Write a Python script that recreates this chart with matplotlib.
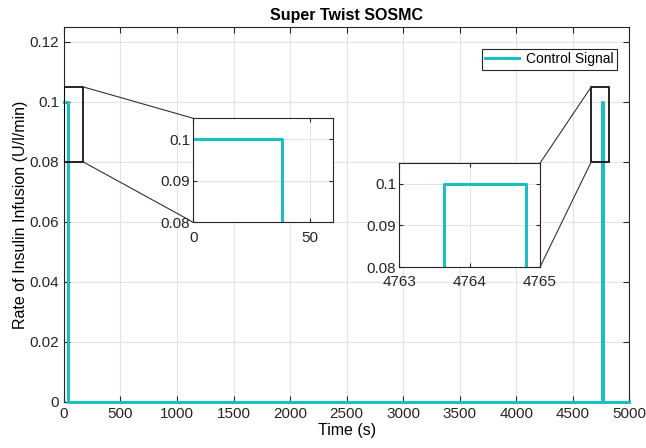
import numpy as np
import matplotlib
matplotlib.use("Agg")
import matplotlib.pyplot as plt
from matplotlib.patches import Rectangle, ConnectionPatch

# Control signal (piecewise constant)
t_sig = [0, 38, 38, 4763.64, 4763.64, 4764.8, 4764.8, 5000]
u_sig = [0.1, 0.1, 0, 0, 0.1, 0.1, 0, 0]

x_ticks = [0, 500, 1000, 1500, 2000, 2500, 3000, 3500, 4000, 4500, 5000]
y_ticks = [0, 0.02, 0.04, 0.06, 0.08, 0.1, 0.12]
y_labels = ["0", "0.02", "0.04", "0.06", "0.08", "0.1", "0.12"]

# zoom windows: (x0, x1) shown on main axes, and inset limits
box1_x = (0, 170)
box2_x = (4664, 4823)
box_y = (0.08, 0.105)
ins1_xlim = (0, 60)
ins2_xlim = (4763, 4765)

plt.rcParams["font.family"] = ["Liberation Sans", "DejaVu Sans"]
plt.rcParams["font.size"] = 11

color = "#1cbfbf"
edge = "#262626"
gridc = "#e3e3e3"

fig = plt.figure(figsize=(6.46, 4.48), dpi=100)
ax = fig.add_axes([0.099, 0.103, 0.875, 0.837])

ax.plot(t_sig, u_sig, color=color, linewidth=2.2, label="Control Signal",
        clip_on=False, zorder=4)
ax.set_xlim(0, 5000)
ax.set_ylim(0, 0.125)
ax.set_xticks(x_ticks)
ax.set_yticks(y_ticks)
ax.set_yticklabels(y_labels)
ax.grid(True, color=gridc, linewidth=0.8)
ax.tick_params(direction="in", top=True, right=True, colors=edge, labelsize=11,
               length=4)
for s in ax.spines.values():
    s.set_color(edge)
    s.set_linewidth(0.8)
ax.set_title("Super Twist SOSMC", fontsize=11.5, fontweight="bold", pad=5)
ax.set_xlabel("Time (s)", fontsize=11.5, labelpad=2)
ax.set_ylabel("Rate of Insulin Infusion (U/l/min)", fontsize=11.5, labelpad=1)
leg = ax.legend(loc="upper right", fontsize=10, fancybox=False, framealpha=1,
                edgecolor=edge, handlelength=2.4, borderpad=0.25,
                handletextpad=0.5, bbox_to_anchor=(0.99, 0.96))
leg.get_frame().set_linewidth(0.8)

# zoom rectangles on the main axes
for bx in (box1_x, box2_x):
    ax.add_patch(Rectangle((bx[0], box_y[0]), bx[1] - bx[0], box_y[1] - box_y[0],
                           fill=False, edgecolor="black", linewidth=1.2, zorder=5))


def make_inset(rect, xlim, xticks, xtick_labels):
    ins = fig.add_axes(rect)
    ins.plot(t_sig, u_sig, color=color, linewidth=2.2)
    ins.set_xlim(*xlim)
    ins.set_ylim(*box_y)
    ins.set_xticks(xticks)
    ins.set_xticklabels(xtick_labels)
    ins.set_yticks([0.08, 0.09, 0.1])
    ins.set_yticklabels(["0.08", "0.09", "0.1"])
    ins.grid(True, color=gridc, linewidth=0.8)
    ins.tick_params(direction="in", top=True, right=True, colors=edge,
                    labelsize=11, length=3, pad=2)
    ins.tick_params(axis="x", pad=6)
    for s in ins.spines.values():
        s.set_color(edge)
        s.set_linewidth(0.8)
    return ins


ins1 = make_inset([0.299, 0.504, 0.217, 0.232], ins1_xlim, [0, 50], ["0", "50"])
ins2 = make_inset([0.618, 0.404, 0.218, 0.232], ins2_xlim,
                  [4763, 4764, 4765], ["4763", "4764", "4765"])

# connector lines
for (xa, ya), (xb, yb), ins in [
    ((box1_x[1], box_y[1]), (0, 1), ins1),
    ((box1_x[1], box_y[0]), (0, 0), ins1),
    ((box2_x[0], box_y[1]), (1, 1), ins2),
    ((box2_x[0], box_y[0]), (1, 0), ins2),
]:
    cp = ConnectionPatch(xyA=(xa, ya), coordsA=ax.transData,
                         xyB=(xb, yb), coordsB=ins.transAxes,
                         color="#333333", linewidth=0.8)
    fig.add_artist(cp)

fig.savefig("out.png", dpi=100)
